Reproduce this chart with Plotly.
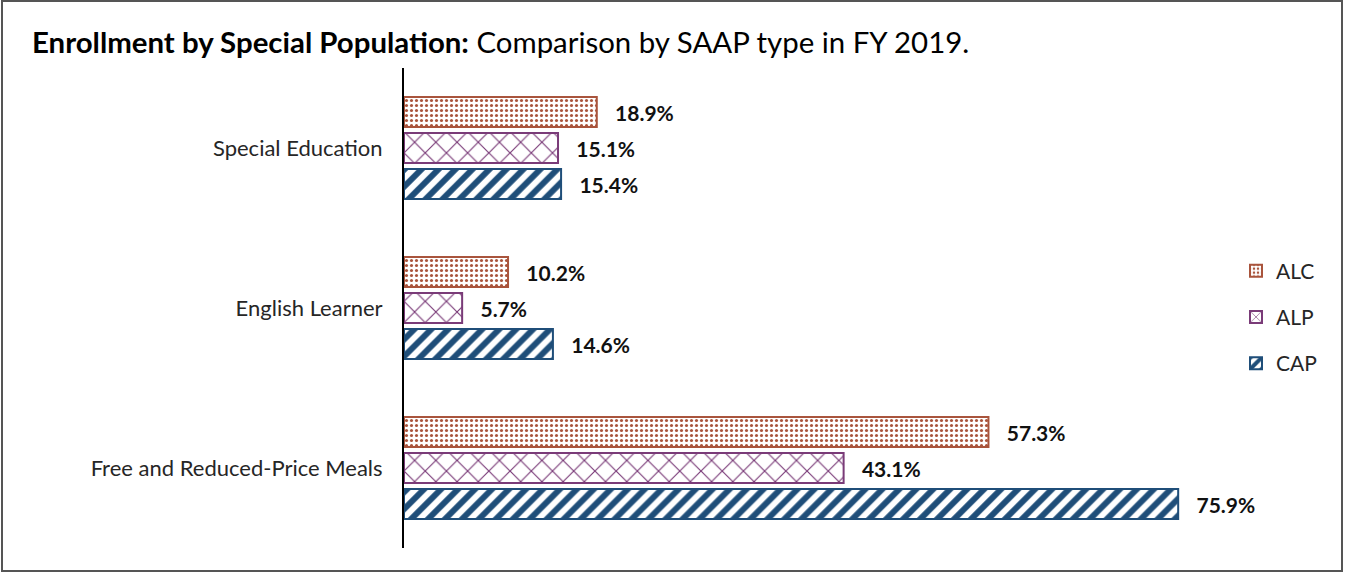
import plotly.graph_objects as go

categories = ["Special Education", "English Learner", "Free and Reduced-Price Meals"]
series_names = ["ALC", "ALP", "CAP"]
alc = [18.9, 10.2, 57.3]
alp = [15.1, 5.7, 43.1]
cap = [15.4, 14.6, 75.9]

W, H = 1345, 573
ML, MR, MT, MB = 404, 125, 68, 25
PW, PH = W - ML - MR, H - MT - MB

styles = {
    "ALC": dict(color="#A9543C", shape=".", size=5, solidity=0.3),
    "ALP": dict(color="#7A3B78", shape="x", size=15, solidity=0.15),
    "CAP": dict(color="#1F4E79", shape="/", size=12, solidity=0.5),
}

FONT = "Lato, 'Open Sans', sans-serif"

fig = go.Figure()
for name, vals in zip(series_names, [alc, alp, cap]):
    s = styles[name]
    fig.add_trace(go.Bar(
        y=categories, x=vals, name=name, orientation="h",
        legendgroup=name,
        marker=dict(
            color="white",
            line=dict(color=s["color"], width=2),
            pattern=dict(shape=s["shape"], fgcolor=s["color"], bgcolor="white",
                         size=s["size"], solidity=s["solidity"], fillmode="replace"),
        ),
        text=[f"   {v:.1f}%" for v in vals],
        textposition="outside",
        constraintext="none",
        textfont=dict(family=FONT, size=21, color="#111111", weight="bold"),
        cliponaxis=False,
        hoverinfo="skip",
    ))

fig.update_layout(
    width=W, height=H,
    margin=dict(l=ML, r=MR, t=MT, b=MB, autoexpand=False),
    paper_bgcolor="white", plot_bgcolor="white",
    barmode="group", bargap=0.325, bargroupgap=0.167,
    font=dict(family=FONT, size=22, color="#262626"),
    title=dict(
        text="<b>Enrollment by Special Population:</b> Comparison by SAAP type in FY 2019.",
        x=32 / W, xanchor="left", xref="container",
        y=1 - 43 / H, yanchor="middle", yref="container",
        font=dict(family=FONT, size=29.4, color="#000000"),
    ),
    xaxis=dict(range=[0, PW / 10.2], showgrid=False, showline=False, showticklabels=False,
               zeroline=False, ticks=""),
    yaxis=dict(autorange="reversed", showline=True, linecolor="#000000", linewidth=2,
               ticks="", showgrid=False, ticklabelstandoff=15,
               tickfont=dict(family=FONT, size=22, color="#262626")),
    legend=dict(
        x=(1236 - ML) / PW, xanchor="left",
        y=(H - MB - 317) / PH, yanchor="middle",
        traceorder="grouped", tracegroupgap=16,
        font=dict(family=FONT, size=21, color="#262626"),
        itemwidth=30,
    ),
    showlegend=True,
)

fig.add_shape(
    type="rect", xref="paper", yref="paper",
    x0=(2 - ML) / PW, x1=(W - 3 - ML) / PW,
    y0=(H - MB - (H - 2)) / PH, y1=(H - MB - 1) / PH,
    line=dict(color="#555555", width=2), fillcolor="rgba(0,0,0,0)",
)

fig.write_html("out.html", config={"displayModeBar": False},
               post_script="document.body.style.margin='0';document.body.style.overflow='hidden';")
